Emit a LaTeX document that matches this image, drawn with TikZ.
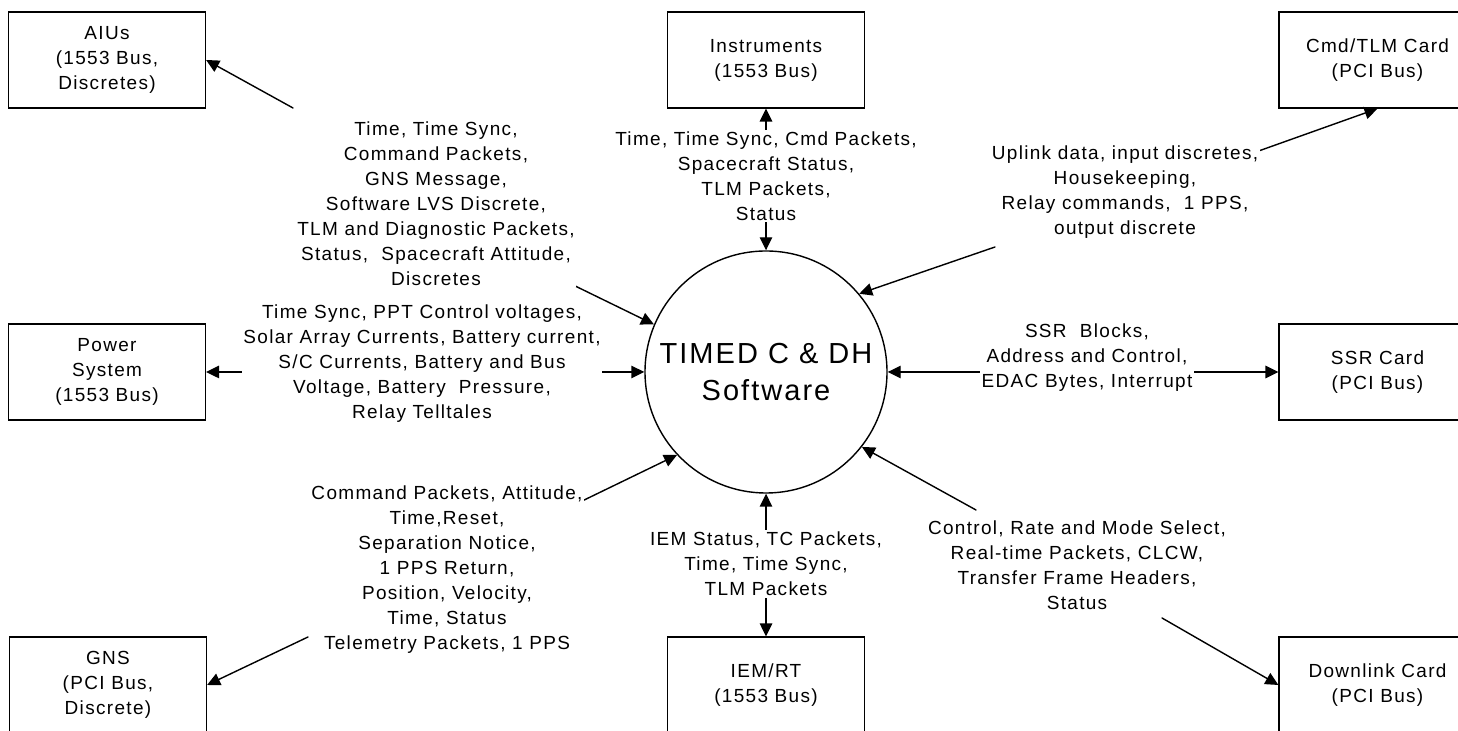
\documentclass[tikz,border=0pt]{standalone}
\usepackage{fontspec}
\setmainfont{Liberation Sans}[LetterSpace=7]
\usepackage{tikz}
\usetikzlibrary{arrows.meta}

\begin{document}
\begin{tikzpicture}[>={Triangle[length=2.6mm,width=2.5mm]},line cap=round,line width=0.8pt,
  font=\fontsize{10.8}{14.2}\selectfont,
  unit/.style={draw,line width=0.7pt,minimum width=3.94cm,minimum height=1.92cm,align=center,inner sep=0pt},
  flow/.style={align=center,fill=white,inner sep=1pt}]
\useasboundingbox (0,0) rectangle (29.16,14.62);
% centre
\node[draw,circle,minimum size=4.84cm,inner sep=0pt,align=center,font=\fontsize{16.5}{21}\selectfont] (dhsw) at (15.32,7.18) {TIMED C \& DH\\Software};
% left column
\node[unit] (aiu) at (2.14,13.42) {AIUs\\(1553 Bus,\\Discretes)};
\node[unit] (power) at (2.14,7.18) {Power\\System\\(1553 Bus)};
\node[unit] (gns) at (2.16,0.92) {GNS\\(PCI Bus,\\Discrete)};
% middle column
\node[unit] (instr) at (15.32,13.42) {Instruments\\(1553 Bus)};
\node[unit] (iem) at (15.32,0.92) {IEM/RT\\(1553 Bus)};
% right column
\node[unit] (cmd) at (27.55,13.42) {Cmd/TLM Card\\(PCI Bus)};
\node[unit] (ssr) at (27.55,7.18) {SSR Card\\(PCI Bus)};
\node[unit] (dl) at (27.55,0.92) {Downlink Card\\(PCI Bus)};
% free ends of the slanted arrows
\coordinate (aiuA) at (5.86,12.46);
\coordinate (aiuB) at (11.38,8.96);
\coordinate (cmdA) at (25.06,11.56);
\coordinate (cmdB) at (19.90,9.68);
\coordinate (gnsA) at (11.56,4.56);
\coordinate (gnsB) at (6.16,1.88);
\coordinate (dlA) at (19.52,4.42);
\coordinate (dlB) at (23.24,2.26);
% connectors
\draw[<->] (power.east) -- (dhsw.west);
\draw[<->] (dhsw.east) -- (ssr.west);
\draw[<->] (instr.south) -- (dhsw.north);
\draw[<->] (dhsw.south) -- (iem.north);
\draw[->] (aiuA) -- (aiu.east);
\draw[->] (aiuB) -- (dhsw.157);
\draw[->] (cmdA) -- (cmd.south);
\draw[->] (cmdB) -- (dhsw.40);
\draw[->] (gnsA) -- (dhsw.223);
\draw[->] (gnsB) -- (gns.east);
\draw[->] (dlA) -- (dhsw.322);
\draw[->] (dlB) -- (dl.west);
% flow labels
\node[flow] (aiulbl) at (8.72,10.55) {Time, Time Sync,\\Command Packets,\\GNS Message,\\Software LVS Discrete,\\TLM and Diagnostic Packets,\\Status,\ \ Spacecraft Attitude,\\Discretes};
\node[flow] (instrlbl) at (15.32,11.10) {Time, Time Sync, Cmd Packets,\\Spacecraft Status,\\TLM Packets,\\Status};
\node[flow] (uplinklbl) at (22.50,10.78) {Uplink data, input discretes,\\Housekeeping,\\Relay commands,\ \ 1 PPS,\\output discrete};
\node[flow] (powerlbl) at (8.44,7.35) {Time Sync, PPT Control voltages,\\Solar Array Currents, Battery current,\\S/C Currents, Battery and Bus\\Voltage, Battery\ \ Pressure,\\Relay Telltales};
\node[flow] (ssrlbl) at (21.74,7.46) {SSR\ \ Blocks,\\Address and Control,\\EDAC Bytes, Interrupt};
\node[flow] (gnslbl) at (8.94,3.23) {Command Packets, Attitude,\\Time,Reset,\\Separation Notice,\\1 PPS Return,\\Position, Velocity,\\Time, Status\\Telemetry Packets, 1 PPS};
\node[flow] (iemlbl) at (15.32,3.34) {IEM Status, TC Packets,\\Time, Time Sync,\\TLM Packets};
\node[flow] (dllbl) at (21.54,3.32) {Control, Rate and Mode Select,\\Real-time Packets, CLCW,\\Transfer Frame Headers,\\Status};
\end{tikzpicture}
\end{document}
